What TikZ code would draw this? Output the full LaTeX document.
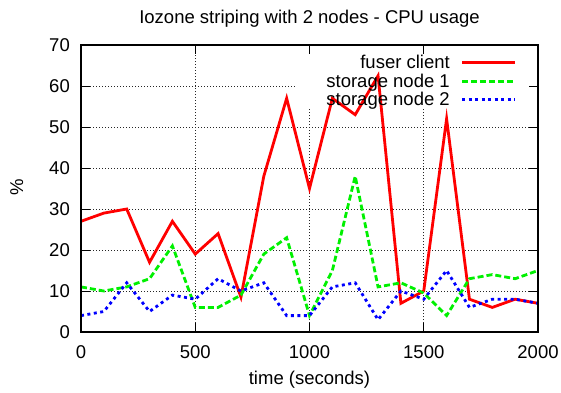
\documentclass[tikz,border=0pt]{standalone}
\usepackage{fontspec}
\setmainfont{Liberation Sans}
\definecolor{gpred}{RGB}{255,0,0}
\definecolor{gpgreen}{RGB}{0,240,0}
\definecolor{gpblue}{RGB}{0,0,255}
\begin{document}
\begin{tikzpicture}[x=1pt,y=1pt,
  every node/.style={inner sep=0pt, font=\fontsize{18.5}{22}\selectfont},
  gridline/.style={black!85, line width=0.9pt, dash pattern=on 1pt off 2pt},
  frameline/.style={black, line width=2pt},
  tickline/.style={black, line width=1pt},
  fuser/.style={gpred, line width=2.8pt, line join=miter},
  snodea/.style={gpgreen, line width=2.8pt, dash pattern=on 6pt off 3pt},
  snodeb/.style={gpblue, line width=2.8pt, dash pattern=on 3pt off 3.5pt}]
\useasboundingbox (0,0) rectangle (561,392);
\begin{scope}[shift={(81,60)}, x=0.2285pt, y=4.1pt]
  % grid
  \foreach \v in {10,20,30,40,50} \draw[gridline] (0,\v) -- (2000,\v);
  \draw[gridline] (0,60) -- (936,60);
  \draw[gridline] (500,0) -- (500,70);
  \foreach \t in {1000,1500} \draw[gridline] (\t,0) -- (\t,54.6);
  % data
  \draw[fuser] plot coordinates {(0,27)(100,29)(200,30)(300,17)(400,27)(500,19)(600,24)(700,8.5)(800,38)(900,57)(1000,35)(1100,57)(1200,53)(1300,62.5)(1400,7)(1500,10)(1600,52)(1700,8)(1800,6)(1900,8)(2000,7)};
  \draw[snodea] plot coordinates {(0,11)(100,10)(200,11)(300,13)(400,21)(500,6)(600,6)(700,9)(800,19)(900,23)(1000,4)(1100,15)(1200,38)(1300,11)(1400,12)(1500,9.5)(1600,4)(1700,13)(1800,14)(1900,13)(2000,15)};
  \draw[snodeb] plot coordinates {(0,4)(100,5)(200,12)(300,5)(400,9)(500,8)(600,13)(700,10)(800,12)(900,4)(1000,4)(1100,11)(1200,12)(1300,3)(1400,10)(1500,8)(1600,15)(1700,6)(1800,8)(1900,8)(2000,7)};
  % frame and ticks
  \draw[frameline] (0,0) rectangle (2000,70);
  \foreach \v in {10,20,30,40,50,60} {
    \draw[tickline] (0,\v) -- ++(9pt,0);
    \draw[tickline] (2000,\v) -- ++(-9pt,0);
  }
  \foreach \t in {500,1000,1500} {
    \draw[tickline] (\t,0) -- ++(0,9pt);
    \draw[tickline] (\t,70) -- ++(0,-9pt);
  }
  % tick labels
  \foreach \v in {0,10,20,30,40,50,60,70}
    \node[anchor=east, xshift=-11pt] (yl\v) at (0,\v) {\v};
  \foreach \t in {0,500,1000,1500,2000}
    \node[anchor=base, yshift=-26.3pt] (xl\t) at (\t,0) {\t};
\end{scope}
% titles
\node[anchor=base] (title) at (309.5,368.5) {Iozone striping with 2 nodes - CPU usage};
\node[anchor=base] (xlab) at (309.5,8) {time (seconds)};
\node[rotate=90] (ylab) at (16.7,204.5) {\%};
% legend
\node[anchor=base east] (key1) at (450,323.9) {fuser client};
\node[anchor=base east] (key2) at (450,304.9) {storage node 1};
\node[anchor=base east] (key3) at (450,286.9) {storage node 2};
\draw[fuser] (462,329.5) -- (515,329.5);
\draw[snodea] (462,310.5) -- (515,310.5);
\draw[snodeb] (462,292.5) -- (515,292.5);
\end{tikzpicture}
\end{document}
